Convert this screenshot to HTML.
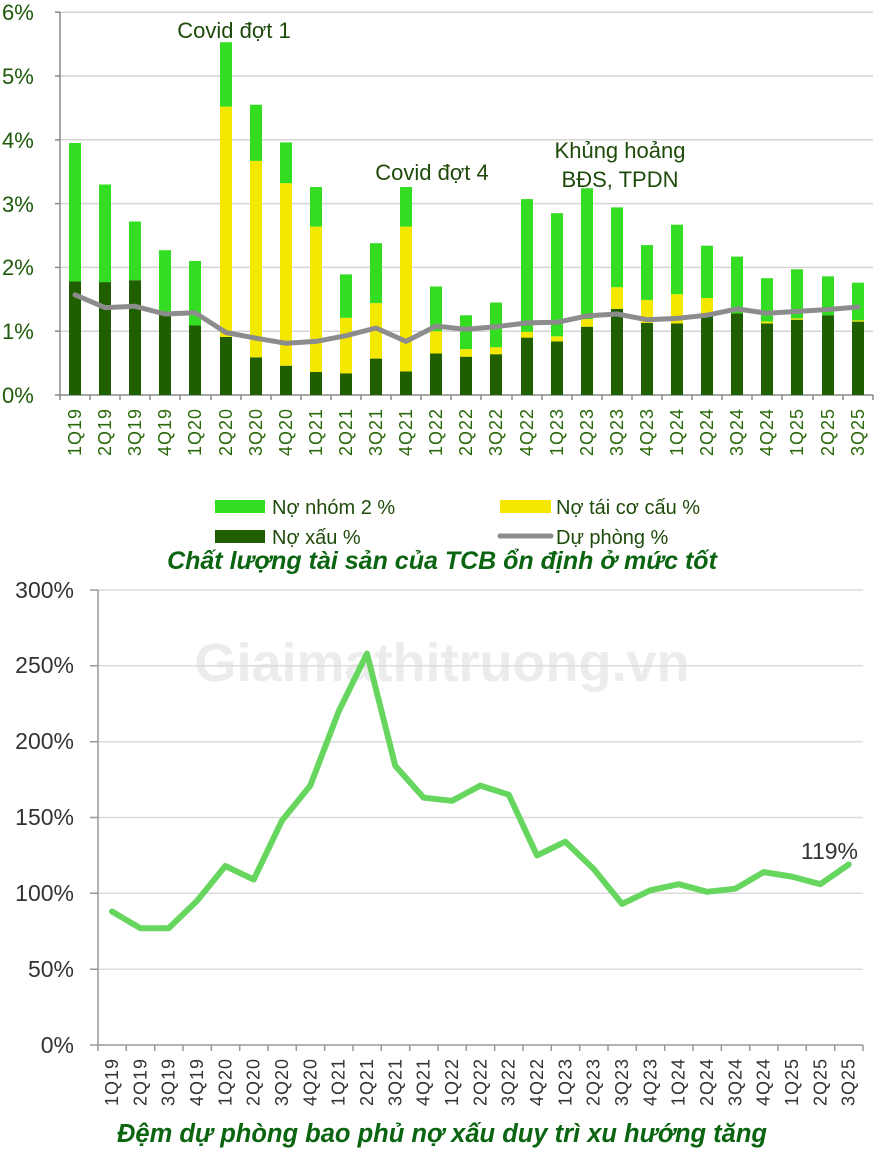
<!DOCTYPE html>
<html><head><meta charset="utf-8"><style>
html,body{margin:0;padding:0;background:#fff;}
svg{display:block;font-family:"Liberation Sans",sans-serif;}
</style></head><body>
<svg width="884" height="1154" viewBox="0 0 884 1154" xmlns="http://www.w3.org/2000/svg">
<!-- TOP CHART -->
<g stroke="#d4d4d4" stroke-width="1.5">
<line x1="60" x2="873" y1="331.2" y2="331.2"/><line x1="60" x2="873" y1="267.4" y2="267.4"/>
<line x1="60" x2="873" y1="203.6" y2="203.6"/><line x1="60" x2="873" y1="139.8" y2="139.8"/>
<line x1="60" x2="873" y1="76" y2="76"/><line x1="60" x2="873" y1="12.2" y2="12.2"/>
</g>
<g fill="#1e5a0a" font-size="22">
<text x="2" y="403">0%</text><text x="2" y="339">1%</text><text x="2" y="275">2%</text>
<text x="2" y="212">3%</text><text x="2" y="148">4%</text><text x="2" y="84">5%</text><text x="2" y="20">6%</text>
</g>
<g stroke="#888" stroke-width="1.5">
<line x1="60" y1="12" x2="60" y2="395"/><line x1="55" y1="395" x2="873" y2="395"/>
<line x1="55" y1="12.2" x2="60" y2="12.2"/><line x1="55" y1="76" x2="60" y2="76"/><line x1="55" y1="139.8" x2="60" y2="139.8"/><line x1="55" y1="203.6" x2="60" y2="203.6"/><line x1="55" y1="267.4" x2="60" y2="267.4"/><line x1="55" y1="331.2" x2="60" y2="331.2"/>
<path d="M60 395v5M90 395v5M120 395v5M150 395v5M180 395v5M211 395v5M241 395v5M271 395v5M301 395v5M331 395v5M361 395v5M391 395v5M421 395v5M451 395v5M481 395v5M512 395v5M542 395v5M572 395v5M602 395v5M632 395v5M662 395v5M692 395v5M722 395v5M752 395v5M782 395v5M813 395v5M843 395v5M873 395v5"/>
</g>
<g transform="translate(-6,0)">
<g fill="#1f5f00">
<rect x="75" y="281.4" width="12" height="113.6"/><rect x="105" y="282.1" width="12" height="112.9"/><rect x="135" y="280.2" width="12" height="114.8"/><rect x="165" y="314" width="12" height="81"/><rect x="195" y="325.5" width="12" height="69.5"/><rect x="226" y="336.9" width="12" height="58.1"/><rect x="256" y="357.4" width="12" height="37.6"/><rect x="286" y="365.7" width="12" height="29.3"/><rect x="316" y="372" width="12" height="23"/><rect x="346" y="373.3" width="12" height="21.7"/><rect x="376" y="358.6" width="12" height="36.4"/><rect x="406" y="371.4" width="12" height="23.6"/><rect x="436" y="353.5" width="12" height="41.5"/><rect x="466" y="356.7" width="12" height="38.3"/><rect x="496" y="354.2" width="12" height="40.8"/><rect x="527" y="337.6" width="12" height="57.4"/><rect x="557" y="341.4" width="12" height="53.6"/><rect x="587" y="326.7" width="12" height="68.3"/><rect x="617" y="308.9" width="12" height="86.1"/><rect x="647" y="322.9" width="12" height="72.1"/><rect x="677" y="323.5" width="12" height="71.5"/><rect x="707" y="316.5" width="12" height="78.5"/><rect x="737" y="313.3" width="12" height="81.7"/><rect x="767" y="323.5" width="12" height="71.5"/><rect x="797" y="319.7" width="12" height="75.3"/><rect x="828" y="315.2" width="12" height="79.8"/><rect x="858" y="321.6" width="12" height="73.4"/>
</g>
<g fill="#f5e800">
<rect x="226" y="106.6" width="12" height="230.3"/><rect x="256" y="160.9" width="12" height="196.5"/><rect x="286" y="183.2" width="12" height="182.5"/><rect x="316" y="226.6" width="12" height="145.4"/><rect x="346" y="317.8" width="12" height="55.5"/><rect x="376" y="303.1" width="12" height="55.5"/><rect x="406" y="226.6" width="12" height="144.8"/><rect x="436" y="331.2" width="12" height="22.3"/><rect x="466" y="349.1" width="12" height="7.6"/><rect x="496" y="347.2" width="12" height="7"/><rect x="527" y="331.8" width="12" height="5.8"/><rect x="557" y="336.3" width="12" height="5.1"/><rect x="587" y="319.1" width="12" height="7.6"/><rect x="617" y="287.2" width="12" height="21.7"/><rect x="647" y="299.9" width="12" height="23"/><rect x="677" y="294.2" width="12" height="29.3"/><rect x="707" y="298" width="12" height="18.5"/><rect x="767" y="321.6" width="12" height="1.9"/><rect x="797" y="318.4" width="12" height="1.3"/><rect x="858" y="320.4" width="12" height="1.2"/>
</g>
<g fill="#33dd22">
<rect x="75" y="143" width="12" height="138.4"/><rect x="105" y="184.5" width="12" height="97.6"/><rect x="135" y="221.5" width="12" height="58.7"/><rect x="165" y="250.2" width="12" height="63.8"/><rect x="195" y="261" width="12" height="64.5"/><rect x="226" y="42.2" width="12" height="64.4"/><rect x="256" y="104.7" width="12" height="56.2"/><rect x="286" y="142.4" width="12" height="40.8"/><rect x="316" y="187" width="12" height="39.6"/><rect x="346" y="274.4" width="12" height="43.4"/><rect x="376" y="243.2" width="12" height="59.9"/><rect x="406" y="187" width="12" height="39.6"/><rect x="436" y="286.5" width="12" height="44.7"/><rect x="466" y="315.3" width="12" height="33.8"/><rect x="496" y="302.5" width="12" height="44.7"/><rect x="527" y="199.1" width="12" height="132.7"/><rect x="557" y="213.2" width="12" height="123.1"/><rect x="587" y="188.3" width="12" height="130.8"/><rect x="617" y="207.4" width="12" height="79.8"/><rect x="647" y="245.1" width="12" height="54.8"/><rect x="677" y="224.7" width="12" height="69.5"/><rect x="707" y="245.7" width="12" height="52.3"/><rect x="737" y="256.6" width="12" height="56.7"/><rect x="767" y="278.2" width="12" height="43.4"/><rect x="797" y="269.3" width="12" height="49.1"/><rect x="828" y="276.3" width="12" height="38.9"/><rect x="858" y="282.7" width="12" height="37.7"/>
</g>
</g>
<polyline fill="none" stroke="#8c8c8c" stroke-width="5" stroke-linejoin="round" stroke-linecap="round" points="75,294.8 105,307.6 135,306.3 165,314 195,312.7 226,332.5 256,338.2 286,343.3 316,341.4 346,335.7 376,328 406,341.4 436,326.1 466,329.3 496,326.7 527,322.9 557,322.3 587,315.9 617,314 647,319.7 677,318.4 707,315.2 737,308.9 767,313.3 797,311.4 828,309.5 858,307"/>
<g fill="#2a6a0a" font-size="18" letter-spacing="1" text-anchor="end">
<text transform="translate(81,408) rotate(-90)">1Q19</text><text transform="translate(111,408) rotate(-90)">2Q19</text><text transform="translate(141,408) rotate(-90)">3Q19</text><text transform="translate(171,408) rotate(-90)">4Q19</text><text transform="translate(201,408) rotate(-90)">1Q20</text><text transform="translate(232,408) rotate(-90)">2Q20</text><text transform="translate(262,408) rotate(-90)">3Q20</text><text transform="translate(292,408) rotate(-90)">4Q20</text><text transform="translate(322,408) rotate(-90)">1Q21</text><text transform="translate(352,408) rotate(-90)">2Q21</text><text transform="translate(382,408) rotate(-90)">3Q21</text><text transform="translate(412,408) rotate(-90)">4Q21</text><text transform="translate(442,408) rotate(-90)">1Q22</text><text transform="translate(472,408) rotate(-90)">2Q22</text><text transform="translate(502,408) rotate(-90)">3Q22</text><text transform="translate(533,408) rotate(-90)">4Q22</text><text transform="translate(563,408) rotate(-90)">1Q23</text><text transform="translate(593,408) rotate(-90)">2Q23</text><text transform="translate(623,408) rotate(-90)">3Q23</text><text transform="translate(653,408) rotate(-90)">4Q23</text><text transform="translate(683,408) rotate(-90)">1Q24</text><text transform="translate(713,408) rotate(-90)">2Q24</text><text transform="translate(743,408) rotate(-90)">3Q24</text><text transform="translate(773,408) rotate(-90)">4Q24</text><text transform="translate(803,408) rotate(-90)">1Q25</text><text transform="translate(834,408) rotate(-90)">2Q25</text><text transform="translate(864,408) rotate(-90)">3Q25</text>
</g>
<g fill="#1e4a0a" font-size="22" text-anchor="middle">
<text x="234" y="38">Covid đợt 1</text>
<text x="432" y="180">Covid đợt 4</text>
<text x="620" y="158">Khủng hoảng</text>
<text x="620" y="187">BĐS, TPDN</text>
</g>
<!-- Legend -->
<rect x="215" y="500" width="50" height="13" fill="#33dd22"/>
<rect x="500" y="500" width="51" height="13" fill="#f5e800"/>
<rect x="215" y="530" width="50" height="13" fill="#1f5f00"/>
<line x1="500" y1="536" x2="551" y2="536" stroke="#8c8c8c" stroke-width="5" stroke-linecap="round"/>
<g fill="#1e4a0a" font-size="20">
<text x="272" y="514">Nợ nhóm 2 %</text>
<text x="556" y="514">Nợ tái cơ cấu %</text>
<text x="272" y="544">Nợ xấu %</text>
<text x="556" y="544">Dự phòng %</text>
</g>
<text x="442" y="569" text-anchor="middle" fill="#0a6410" font-size="25" font-weight="bold" font-style="italic">Chất lượng tài sản của TCB ổn định ở mức tốt</text>
<!-- BOTTOM CHART -->
<text x="442" y="681" text-anchor="middle" fill="#ececec" font-size="54" font-weight="bold">Giaimathitruong.vn</text>
<g stroke="#dcdcdc" stroke-width="1.5">
<line x1="98" x2="863" y1="969.2" y2="969.2"/><line x1="98" x2="863" y1="893.3" y2="893.3"/><line x1="98" x2="863" y1="817.5" y2="817.5"/><line x1="98" x2="863" y1="741.7" y2="741.7"/><line x1="98" x2="863" y1="665.8" y2="665.8"/><line x1="98" x2="863" y1="590" y2="590"/>
</g>
<g stroke="#999" stroke-width="1.5">
<line x1="98" y1="590" x2="98" y2="1045"/><line x1="90" y1="1045" x2="863" y2="1045"/>
<path d="M90 590h8M90 665.8h8M90 741.7h8M90 817.5h8M90 893.3h8M90 969.2h8"/>
<path d="M98 1045v6M126.3 1045v6M154.7 1045v6M183 1045v6M211.3 1045v6M239.7 1045v6M268 1045v6M296.3 1045v6M324.7 1045v6M353 1045v6M381.3 1045v6M409.7 1045v6M438 1045v6M466.3 1045v6M494.7 1045v6M523 1045v6M551.3 1045v6M579.7 1045v6M608 1045v6M636.3 1045v6M664.7 1045v6M693 1045v6M721.3 1045v6M749.7 1045v6M778 1045v6M806.3 1045v6M834.7 1045v6M863 1045v6"/>
</g>
<g fill="#333" font-size="23" text-anchor="end">
<text x="74" y="1053">0%</text><text x="74" y="977">50%</text><text x="74" y="901">100%</text><text x="74" y="825">150%</text><text x="74" y="749">200%</text><text x="74" y="673">250%</text><text x="74" y="598">300%</text>
</g>
<polyline fill="none" stroke="#66d65e" stroke-width="6" stroke-linejoin="round" stroke-linecap="round" points="112,911.5 140.3,928.2 168.7,928.2 197,900.9 225.3,866 253.7,879.6 282,820.5 310.3,785.6 338.7,711.3 367,653.6 395.3,765.9 423.7,797.7 452,800.8 480.3,785.6 508.7,794.7 537,855.4 565.3,841.7 593.7,869 622,903.9 650.3,890.3 678.7,884.2 707,891.8 735.3,888.7 763.7,872.1 792,876.6 820.3,884.2 848.7,864.5"/>
<text x="858" y="859" text-anchor="end" fill="#333" font-size="23">119%</text>
<g fill="#333" font-size="18" letter-spacing="1" text-anchor="end">
<text transform="translate(118,1058) rotate(-90)">1Q19</text><text transform="translate(146.3,1058) rotate(-90)">2Q19</text><text transform="translate(174.7,1058) rotate(-90)">3Q19</text><text transform="translate(203,1058) rotate(-90)">4Q19</text><text transform="translate(231.3,1058) rotate(-90)">1Q20</text><text transform="translate(259.7,1058) rotate(-90)">2Q20</text><text transform="translate(288,1058) rotate(-90)">3Q20</text><text transform="translate(316.3,1058) rotate(-90)">4Q20</text><text transform="translate(344.7,1058) rotate(-90)">1Q21</text><text transform="translate(373,1058) rotate(-90)">2Q21</text><text transform="translate(401.3,1058) rotate(-90)">3Q21</text><text transform="translate(429.7,1058) rotate(-90)">4Q21</text><text transform="translate(458,1058) rotate(-90)">1Q22</text><text transform="translate(486.3,1058) rotate(-90)">2Q22</text><text transform="translate(514.7,1058) rotate(-90)">3Q22</text><text transform="translate(543,1058) rotate(-90)">4Q22</text><text transform="translate(571.3,1058) rotate(-90)">1Q23</text><text transform="translate(599.7,1058) rotate(-90)">2Q23</text><text transform="translate(628,1058) rotate(-90)">3Q23</text><text transform="translate(656.3,1058) rotate(-90)">4Q23</text><text transform="translate(684.7,1058) rotate(-90)">1Q24</text><text transform="translate(713,1058) rotate(-90)">2Q24</text><text transform="translate(741.3,1058) rotate(-90)">3Q24</text><text transform="translate(769.7,1058) rotate(-90)">4Q24</text><text transform="translate(798,1058) rotate(-90)">1Q25</text><text transform="translate(826.3,1058) rotate(-90)">2Q25</text><text transform="translate(854.7,1058) rotate(-90)">3Q25</text>
</g>
<text x="442" y="1142" text-anchor="middle" fill="#0a6410" font-size="25.5" font-weight="bold" font-style="italic">Đệm dự phòng bao phủ nợ xấu duy trì xu hướng tăng</text>
</svg>
</body></html>
